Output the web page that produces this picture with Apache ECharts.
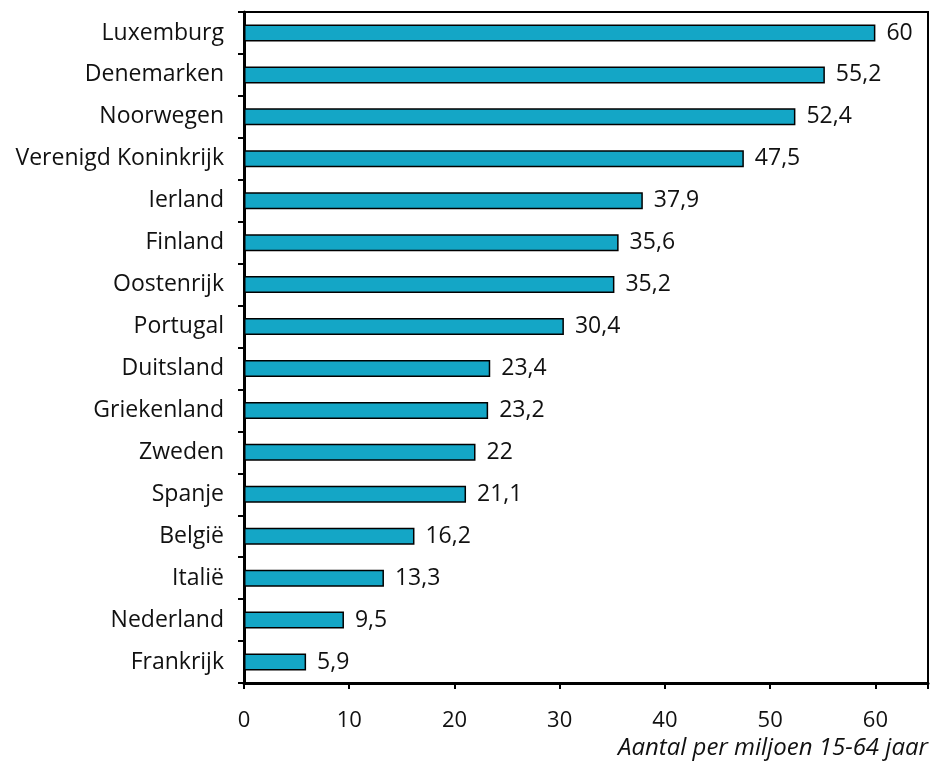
<!DOCTYPE html>
<html>
<head>
<meta charset="utf-8">
<script src="https://cdn.jsdelivr.net/npm/echarts@6/dist/echarts.min.js"></script>
<style>
  html, body { margin: 0; padding: 0; background: #fff; }
  #main { width: 933px; height: 765px; }
</style>
</head>
<body>
<div id="main"></div>
<script>
// landen, van onder naar boven
const landen = ['Frankrijk', 'Nederland', 'Italië', 'België', 'Spanje', 'Zweden', 'Griekenland',
  'Duitsland', 'Portugal', 'Oostenrijk', 'Finland', 'Ierland', 'Verenigd Koninkrijk',
  'Noorwegen', 'Denemarken', 'Luxemburg'];
const waarden = [5.9, 9.5, 13.3, 16.2, 21.1, 22, 23.2, 23.4, 30.4, 35.2, 35.6, 37.9, 47.5, 52.4, 55.2, 60];
const asTitel = 'Aantal per miljoen 15-64 jaar';

const font = '"Open Sans", sans-serif';
var myChart = echarts.init(document.getElementById('main'));

const option = {
  animation: false,
  grid: {
    left: 244, right: 5, top: 12, bottom: 82,
    show: true,
    borderColor: '#000',
    borderWidth: 2
  },
  xAxis: {
    type: 'value',
    min: 0, max: 65, interval: 10,
    name: asTitel,
    nameLocation: 'end',
    nameGap: 0,
    nameTextStyle: {
      fontFamily: font, fontSize: 24, fontStyle: 'italic', color: '#111',
      align: 'right', verticalAlign: 'top', padding: [53, 0, 0, 0]
    },
    axisLine: { show: true, lineStyle: { color: '#000', width: 3 } },
    axisTick: { show: true, length: 6, lineStyle: { color: '#000', width: 2 } },
    axisLabel: {
      fontFamily: font, fontSize: 22, color: '#111', margin: 27,
      formatter: v => (v <= 60 ? String(v) : '')
    },
    splitLine: { show: false }
  },
  yAxis: {
    type: 'category',
    data: landen,
    axisLine: { show: true, lineStyle: { color: '#000', width: 3 } },
    axisTick: { show: true, length: 6, lineStyle: { color: '#000', width: 2 } },
    axisLabel: { fontFamily: font, fontSize: 23, color: '#111', margin: 20 }
  },
  series: [{
    type: 'bar',
    data: waarden,
    barWidth: 17,
    itemStyle: { color: '#14a6c6', borderColor: '#000', borderWidth: 1.5 },
    label: {
      show: true,
      position: 'right',
      distance: 11,
      fontFamily: font, fontSize: 23, color: '#111',
      formatter: p => String(p.value).replace('.', ',')
    }
  }]
};

myChart.setOption(option);
</script>
</body>
</html>
